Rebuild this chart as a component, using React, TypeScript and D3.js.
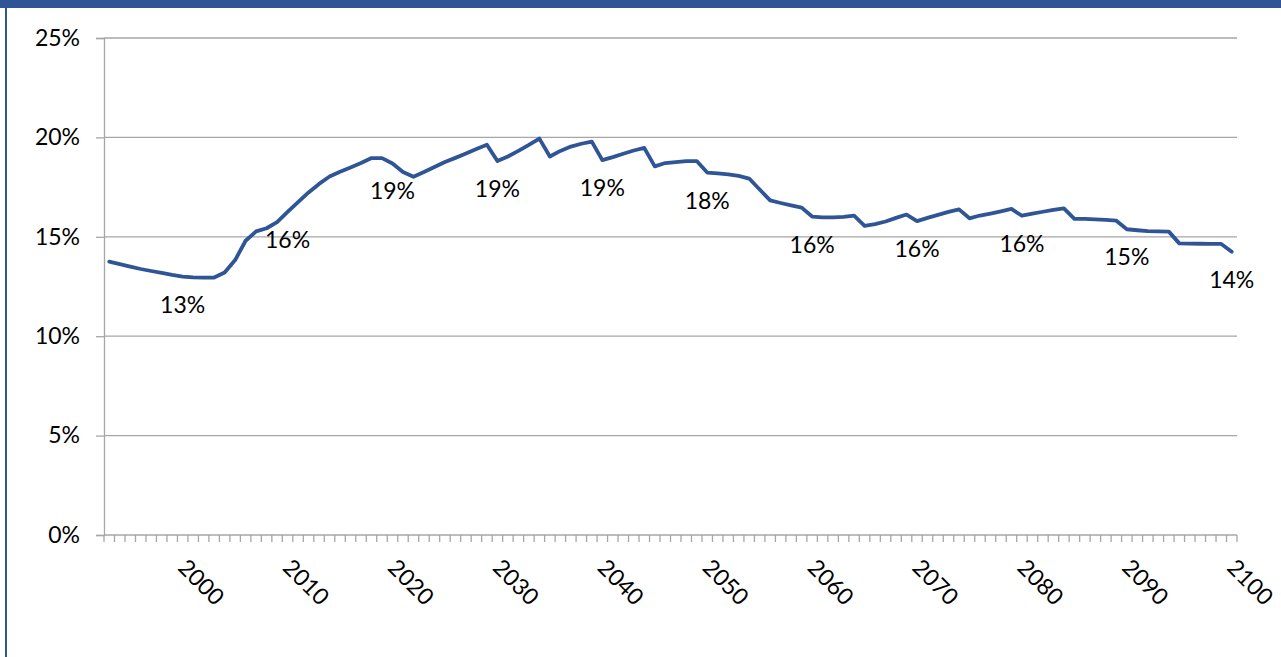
import React, { useEffect, useRef } from 'react';
import * as d3 from 'd3';

// one category per year, 1993 .. 2100
const years = [
  1993, 1994, 1995, 1996, 1997, 1998, 1999, 2000, 2001, 2002, 2003, 2004, 2005, 2006, 2007, 2008, 2009, 2010,
  2011, 2012, 2013, 2014, 2015, 2016, 2017, 2018, 2019, 2020, 2021, 2022, 2023, 2024, 2025, 2026, 2027, 2028,
  2029, 2030, 2031, 2032, 2033, 2034, 2035, 2036, 2037, 2038, 2039, 2040, 2041, 2042, 2043, 2044, 2045, 2046,
  2047, 2048, 2049, 2050, 2051, 2052, 2053, 2054, 2055, 2056, 2057, 2058, 2059, 2060, 2061, 2062, 2063, 2064,
  2065, 2066, 2067, 2068, 2069, 2070, 2071, 2072, 2073, 2074, 2075, 2076, 2077, 2078, 2079, 2080, 2081, 2082,
  2083, 2084, 2085, 2086, 2087, 2088, 2089, 2090, 2091, 2092, 2093, 2094, 2095, 2096, 2097, 2098, 2099, 2100,
];

// share in percent, same order as years
const shares = [
  13.75, 13.63, 13.5, 13.38, 13.28, 13.18, 13.08, 13.0, 12.96, 12.95, 12.95, 13.2, 13.83, 14.8, 15.27, 15.43, 15.74, 16.25,
  16.75, 17.23, 17.66, 18.03, 18.27, 18.49, 18.71, 18.96, 18.96, 18.69, 18.26, 18.02, 18.26, 18.51, 18.76, 18.97, 19.19, 19.42,
  19.63, 18.81, 19.04, 19.32, 19.62, 19.94, 19.04, 19.32, 19.54, 19.68, 19.79, 18.86, 19.01, 19.18, 19.34, 19.47, 18.54, 18.71,
  18.76, 18.81, 18.81, 18.23, 18.19, 18.14, 18.06, 17.93, 17.38, 16.83, 16.7, 16.58, 16.47, 16.02, 15.98, 15.98, 16.0, 16.06,
  15.55, 15.64, 15.77, 15.95, 16.12, 15.79, 15.95, 16.1, 16.25, 16.38, 15.93, 16.07, 16.17, 16.28, 16.4, 16.06, 16.16, 16.26,
  16.35, 16.43, 15.9, 15.9, 15.88, 15.85, 15.81, 15.38, 15.33, 15.29, 15.27, 15.26, 14.67, 14.66, 14.65, 14.64, 14.64, 14.25,
];

const labelYears = [2000, 2010, 2020, 2030, 2040, 2050, 2060, 2070, 2080, 2090, 2100];
const yTicks = [0, 5, 10, 15, 20, 25];

const W = 1281;
const H = 657;
const margin = { top: 38, right: 44, bottom: 122, left: 104 };
const font = 'Lato, "Open Sans", sans-serif';
const fontSize = 23;
const blue = '#2F5597';
const grey = '#a6a6a6';

const App = () => {
  const svgRef = useRef(null);

  useEffect(() => {
    const svg = d3.select(svgRef.current);
    svg.selectAll('*').remove();

    const x = d3
      .scaleBand()
      .domain(years.map(String))
      .range([margin.left, W - margin.right])
      .padding(0);

    const y = d3
      .scaleLinear()
      .domain([0, 25])
      .range([H - margin.bottom, margin.top]);

    const cx = (yr) => x(String(yr)) + x.bandwidth() / 2;

    // outer frame: title bar and left border
    svg.append('rect').attr('x', 0).attr('y', 0).attr('width', W).attr('height', 8).attr('fill', blue);
    svg.append('rect').attr('x', 5).attr('y', 0).attr('width', 2).attr('height', H).attr('fill', blue);

    // gridlines
    svg
      .append('g')
      .selectAll('line')
      .data(yTicks.filter((t) => t > 0))
      .enter()
      .append('line')
      .attr('x1', margin.left)
      .attr('x2', W - margin.right)
      .attr('y1', (d) => y(d))
      .attr('y2', (d) => y(d))
      .attr('stroke', grey)
      .attr('stroke-width', 1.3);

    // y axis
    const yAxis = d3
      .axisLeft(y)
      .tickValues(yTicks)
      .tickFormat((d) => d + '%')
      .tickSize(8)
      .tickPadding(16);

    const gy = svg
      .append('g')
      .attr('transform', `translate(${margin.left},0)`)
      .call(yAxis);
    gy.select('.domain').attr('stroke', grey).attr('stroke-width', 1.3);
    gy.selectAll('.tick line').attr('stroke', grey).attr('stroke-width', 1.3);
    gy.selectAll('.tick text')
      .attr('font-family', font)
      .attr('font-size', fontSize)
      .attr('fill', '#000');

    // x axis: tick between every category
    const base = y(0);
    svg
      .append('line')
      .attr('x1', margin.left)
      .attr('x2', W - margin.right)
      .attr('y1', base)
      .attr('y2', base)
      .attr('stroke', grey)
      .attr('stroke-width', 1.3);

    const bounds = years.map((yr) => x(String(yr))).concat([W - margin.right]);
    svg
      .append('g')
      .selectAll('line')
      .data(bounds)
      .enter()
      .append('line')
      .attr('x1', (d) => d)
      .attr('x2', (d) => d)
      .attr('y1', base)
      .attr('y2', base + 7)
      .attr('stroke', grey)
      .attr('stroke-width', 1.3);

    svg
      .append('g')
      .selectAll('text')
      .data(labelYears)
      .enter()
      .append('text')
      .attr('transform', (d) => `translate(${cx(d) - 6},${base + 34}) rotate(45)`)
      .attr('font-family', font)
      .attr('font-size', fontSize)
      .attr('fill', '#000')
      .text((d) => d);

    // the series
    const pts = years.map((yr, i) => ({ yr, v: shares[i] }));
    const line = d3
      .line()
      .x((d) => cx(d.yr))
      .y((d) => y(d.v));

    svg
      .append('path')
      .datum(pts)
      .attr('d', line)
      .attr('fill', 'none')
      .attr('stroke', blue)
      .attr('stroke-width', 3.8)
      .attr('stroke-linejoin', 'round')
      .attr('stroke-linecap', 'round');

    // data labels below every tenth year
    svg
      .append('g')
      .selectAll('text')
      .data(pts.filter((d) => labelYears.includes(d.yr)))
      .enter()
      .append('text')
      .attr('x', (d) => cx(d.yr))
      .attr('y', (d) => y(d.v) + 28)
      .attr('dy', '0.35em')
      .attr('text-anchor', 'middle')
      .attr('font-family', font)
      .attr('font-size', fontSize)
      .attr('fill', '#000')
      .text((d) => Math.round(d.v) + '%');
  }, []);

  return (
    <div style={{ position: 'absolute', left: 0, top: 0 }}>
      <svg ref={svgRef} width={W} height={H} style={{ display: 'block', background: '#fff' }}></svg>
    </div>
  );
};

export default App;
